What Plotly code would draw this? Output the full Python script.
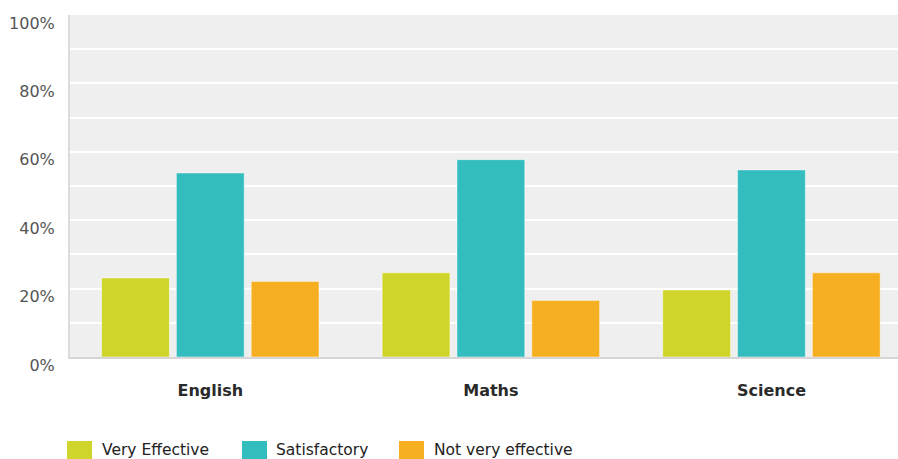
import plotly.graph_objects as go

subjects = ["English", "Maths", "Science"]
series_names = ["Very Effective", "Satisfactory", "Not very effective"]
very_effective = [23.1, 24.6, 19.6]
satisfactory = [53.8, 57.7, 54.7]
not_very_effective = [22.1, 16.5, 24.6]
series_values = [very_effective, satisfactory, not_very_effective]
colors = ["#cfd52a", "#33bdbf", "#f6af20"]
y_tick_vals = [0, 20, 40, 60, 80, 100]
y_tick_text = ["0%", "20%", "40%", "60%", "80%", "100%"]

W, H = 898, 459
ML, MR, MT, MB = 70, 0, 15, 102
PW, PH = W - ML - MR, H - MT - MB

def px_x(px):
    return (px - ML) / PW

def px_y(py):
    return (H - MB - py) / PH

fig = go.Figure()
for name, vals, col in zip(series_names, series_values, colors):
    fig.add_trace(go.Bar(
        x=subjects, y=vals, name=name, showlegend=False,
        marker=dict(color=col, line=dict(color="rgba(255,255,255,0.45)", width=1)),
        hoverinfo="skip",
    ))

# custom legend (large swatches like the original)
sw_left = [67, 242, 399]
txt_left = [100, 274, 432]
for name, col, sx, tx in zip(series_names, colors, sw_left, txt_left):
    fig.add_shape(type="rect", xref="paper", yref="paper",
                  x0=px_x(sx), x1=px_x(sx + 25), y0=px_y(441), y1=px_y(462),
                  fillcolor=col, line=dict(width=0), layer="above")
    fig.add_annotation(xref="paper", yref="paper", x=px_x(tx), y=px_y(450),
                       text=name, showarrow=False, xanchor="left", yanchor="middle",
                       font=dict(family="DejaVu Sans", size=15.5, color="#222222"))

fig.update_layout(
    width=W, height=H,
    margin=dict(l=ML, r=MR, t=MT, b=MB, pad=0),
    paper_bgcolor="white", plot_bgcolor="#efefef",
    barmode="group", bargap=0.2, bargroupgap=0.094,
    font=dict(family="DejaVu Sans", size=15, color="#555555"),
    showlegend=False,
)
fig.update_xaxes(
    range=[-0.5, 2.451], showgrid=False, showline=True, linecolor="#d6d6d6", linewidth=2,
    ticks="", tickfont=dict(family="DejaVu Sans", size=16, color="#2a2a2a", weight="bold"),
    ticklabelstandoff=18,
)
fig.update_yaxes(
    range=[0, 100], tickvals=y_tick_vals, ticktext=y_tick_text,
    showgrid=False, showline=True, linecolor="#dcdcdc", linewidth=2, zeroline=False,
    ticks="", ticklabelshift=8, ticklabelstandoff=10, ticklabeloverflow="allow",
    tickfont=dict(family="DejaVu Sans", size=16, color="#555555"),
    minor=dict(dtick=10, showgrid=True, gridcolor="white", gridwidth=1.5),
)
fig.write_html("out.html", config={"displayModeBar": False},
               post_script="document.body.style.margin='0';document.body.style.padding='0';")
